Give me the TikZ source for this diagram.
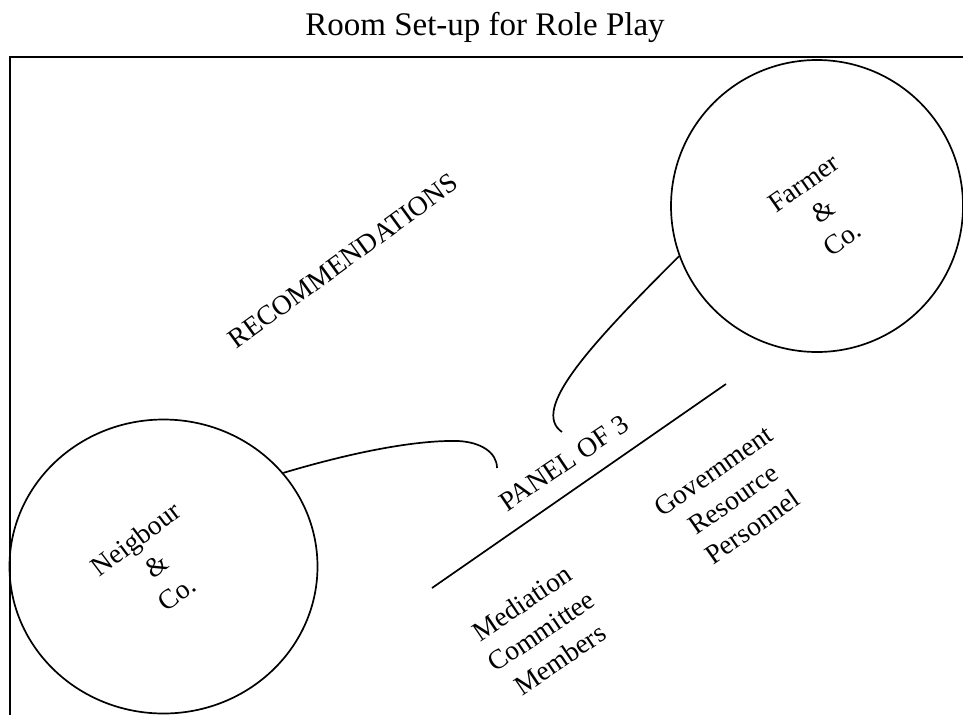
\documentclass[tikz,border=0pt]{standalone}
\usepackage{fontspec}
\setmainfont{Liberation Serif}
\usetikzlibrary{shapes.geometric}
\begin{document}
\begin{tikzpicture}[x=1pt,y=-1pt,
  wall/.style={line width=2pt},
  group/.style={draw,ellipse,line width=1.7pt,inner sep=0pt},
  link/.style={line width=1.7pt},
  lbl/.style={font=\fontsize{27.5}{34}\selectfont,align=center,inner sep=0pt}]
\useasboundingbox (0,0) rectangle (963,715);
\fill[white] (0,0) rectangle (963,715);

% title
\node[font=\fontsize{33}{40}\selectfont,anchor=base,inner sep=0pt] (title) at (485,35) {Room Set-up for Role Play};

% room walls
\coordinate (wtl) at (10,57);
\coordinate (wtr) at (963,57);
\coordinate (wbl) at (10,715);
\draw[wall] (wbl) -- (wtl) -- (wtr);

% the two parties
\node[group,minimum width=292pt,minimum height=292pt] (farmer) at (817,206) {};
\node[group,minimum width=308pt,minimum height=294pt] (neighbour) at (163.5,566.5) {};

% the panel table
\coordinate (pa) at (432,588);
\coordinate (pb) at (726,384);
\draw[link] (pa) -- (pb);

% labels
\node[lbl,rotate=36] (rec) at (343,261) {RECOMMENDATIONS};
\node[lbl,rotate=35] (ftxt) at (823,211) {Farmer\\\&\\Co.};
\node[lbl,rotate=37] (ntxt) at (156,566) {Neigbour\\\&\\Co.};
\node[lbl,rotate=34] (panel) at (564,463) {PANEL OF 3};
\node[lbl,rotate=34] (med) at (541,631) {Mediation\\Committee\\Members};
\node[lbl,rotate=35] (gov) at (733,499) {Government\\Resource\\Personnel};

% free ends of the connectors near the panel
\coordinate (ne) at (497,468);
\coordinate (fe) at (562,432);

% connectors
\draw[link] (neighbour.38.6) .. controls (360,450) and (420,440) .. (458,441)
  .. controls (480,442) and (497,452) .. (ne);
\draw[link] (farmer.200.5) .. controls (590,345) and (530,410) .. (fe);
\end{tikzpicture}
\end{document}
